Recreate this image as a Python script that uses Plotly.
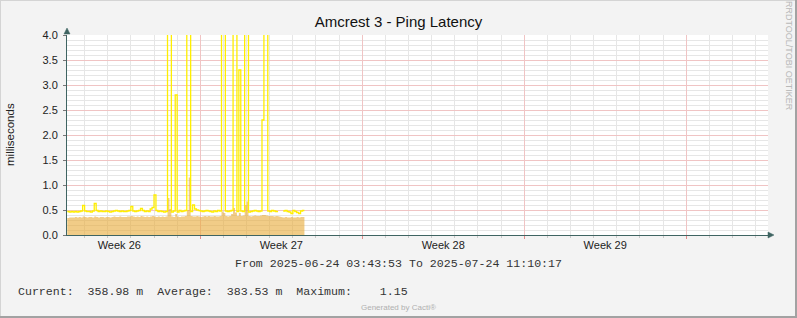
import plotly.graph_objects as go
import pandas as pd

# ---------------- data ----------------
title_text = "Amcrest 3 - Ping Latency"
y_title = "milliseconds"
sample_start = "2025-06-24 06:00"
sample_step = "2h"
range_start = "2025-06-24 05:45"
range_end = "2025-07-24 12:50"

# yellow line (ping, ms) - 2 hour samples
ping_line = [
    0.47, 0.46, 0.47, 0.46, 0.47, 0.46, 0.47, 0.48, 0.59, 0.48,
    0.47, 0.47, 0.46, 0.48, 0.63, 0.49, 0.47, 0.48, 0.47, 0.47,
    0.48, 0.47, 0.46, 0.47, 0.48, 0.49, 0.48, 0.47, 0.48, 0.47,
    0.47, 0.48, 0.49, 0.57, 0.48, 0.47, 0.48, 0.49, 0.53, 0.49,
    0.47, 0.48, 0.47, 0.52, 0.55, 0.80, 0.49, 0.47, 0.48, 0.47,
    0.46, 0.47, 5.00, 5.00, 0.46, 0.48, 2.80, 0.46, 0.49, 0.47,
    0.48, 0.49, 5.00, 5.00, 0.47, 0.60, 0.52, 0.50, 0.49, 0.48,
    0.47, 0.48, 0.49, 0.48, 0.47, 0.46, 0.48, 0.47, 0.49, 0.48,
    5.00, 5.00, 0.48, 0.47, 0.48, 0.49, 5.00, 5.00, 0.47, 3.30,
    0.48, 0.47, 5.00, 5.00, 0.46, 0.47, 0.48, 0.49, 0.48, 0.47,
    0.48, 2.30, 5.00, 5.00, 0.48, 0.47, 0.49, 0.48, 0.47, 0.48,
    None, None, 0.48, 0.49, 0.47, 0.46, 0.43, 0.49, 0.47, 0.45,
    0.43, 0.48, 0.49, 0.49,
]

# tan area (ping, ms)
ping_area = [
    0.34, 0.35, 0.35, 0.35, 0.36, 0.35, 0.36, 0.35, 0.37, 0.36,
    0.35, 0.36, 0.36, 0.35, 0.37, 0.36, 0.35, 0.36, 0.36, 0.35,
    0.36, 0.36, 0.35, 0.36, 0.37, 0.36, 0.36, 0.37, 0.36, 0.36,
    0.36, 0.37, 0.37, 0.38, 0.37, 0.36, 0.37, 0.36, 0.38, 0.37,
    0.36, 0.37, 0.36, 0.37, 0.38, 0.37, 0.36, 0.37, 0.36, 0.37,
    0.36, 0.37, 0.74, 0.52, 0.37, 0.36, 0.42, 0.37, 0.36, 0.37,
    0.37, 0.38, 0.50, 1.15, 0.38, 0.37, 0.37, 0.38, 0.37, 0.36,
    0.37, 0.38, 0.37, 0.38, 0.37, 0.37, 0.38, 0.37, 0.37, 0.38,
    0.47, 0.44, 0.38, 0.37, 0.38, 0.42, 0.54, 0.45, 0.38, 0.44,
    0.38, 0.39, 0.60, 0.67, 0.38, 0.37, 0.38, 0.39, 0.38, 0.38,
    0.39, 0.40, 0.40, 0.39, 0.38, 0.38, 0.38, 0.37, 0.38, 0.38,
    None, None, 0.35, 0.36, 0.35, 0.35, 0.36, 0.35, 0.35, 0.36,
    0.35, 0.36, 0.36, 0.36,
]

week_centers = ["2025-06-26 12:00", "2025-07-03 12:00", "2025-07-10 12:00", "2025-07-17 12:00"]
week_labels = ["Week 26", "Week 27", "Week 28", "Week 29"]
y_ticks = [0.0, 0.5, 1.0, 1.5, 2.0, 2.5, 3.0, 3.5, 4.0]
y_tick_labels = ["0.0", "0.5", "1.0", "1.5", "2.0", "2.5", "3.0", "3.5", "4.0"]

period_text = "From 2025-06-24 03:43:53 To 2025-07-24 11:10:17"
legend_names = ["Current:", "Average:", "Maximum:"]
legend_values = ["358.98 m", "383.53 m", "1.15"]
footer_text = "Generated by Cacti®"
side_text = "RRDTOOL/TOBI OETIKER"

# ---------------- layout constants ----------------
W, H = 797, 318
L, R, T, B = 67, 768, 35, 235   # plot area in pixels

def px_x(px):
    return (px - L) / (R - L)

def px_y(py):
    return (B - py) / (B - T)

AXIS_COL = "#3f6462"
MAJOR_GRID = "rgb(240,196,196)"
MINOR_GRID = "rgb(230,230,230)"
SANS = "Liberation Sans"
MONO = "Liberation Mono"
DAY_MS = 86400000

times = pd.date_range(sample_start, periods=len(ping_line), freq=sample_step)

fig = go.Figure()
fig.add_trace(go.Scatter(
    x=times, y=ping_area, mode="lines", line=dict(width=0, shape="hv"),
    fill="tozeroy", fillcolor="rgba(232,170,55,0.6)",
    hoverinfo="skip", showlegend=False, connectgaps=False,
))
fig.add_trace(go.Scatter(
    x=times, y=ping_line, mode="lines", line=dict(width=1.3, color="#FFEE00", shape="hv"),
    hoverinfo="skip", showlegend=False, connectgaps=False,
))
# carrier for week-label axis
fig.add_trace(go.Scatter(
    x=week_centers, y=[0] * len(week_centers), mode="markers", marker=dict(opacity=0),
    xaxis="x2", yaxis="y", hoverinfo="skip", showlegend=False,
))
# carrier for major-grid / y-label axes
fig.add_trace(go.Scatter(
    x=week_centers, y=[0] * len(week_centers), mode="markers", marker=dict(opacity=0),
    xaxis="x3", yaxis="y3", hoverinfo="skip", showlegend=False,
))

legend_line = ""
spacing = [2, 2, 2, 2, 4]
parts = [legend_names[0], legend_values[0], legend_names[1], legend_values[1], legend_names[2], legend_values[2]]
for k, p in enumerate(parts):
    legend_line += p
    if k < len(spacing):
        legend_line += "\u00a0" * spacing[k]

annotations = [
    dict(text=y_title, x=px_x(10), y=px_y(135), xref="paper", yref="paper", textangle=-90,
         showarrow=False, font=dict(family=SANS, size=11.5, color="#222"), xanchor="center", yanchor="middle"),
    dict(text=period_text.replace(" ", "\u00a0"), x=px_x(398.5), y=px_y(263), xref="paper", yref="paper",
         showarrow=False, font=dict(family=MONO, size=11.6, color="#333"), xanchor="center", yanchor="middle"),
    dict(text=legend_line, x=px_x(16), y=px_y(291), xref="paper", yref="paper",
         showarrow=False, font=dict(family=MONO, size=11.6, color="#333"), xanchor="left", yanchor="middle"),
    dict(text=footer_text, x=px_x(398), y=px_y(307), xref="paper", yref="paper",
         showarrow=False, font=dict(family=SANS, size=8, color="#b0b0b0"), xanchor="center", yanchor="middle"),
    dict(text=side_text, x=px_x(789), y=px_y(56), xref="paper", yref="paper", textangle=90,
         showarrow=False, font=dict(family=SANS, size=9, color="#b8b8b8"), xanchor="center", yanchor="middle"),
]

shapes = [
    dict(type="line", xref="paper", yref="paper", x0=px_x(0), x1=px_x(W), y0=px_y(0.5), y1=px_y(0.5),
         line=dict(color="#d4d4d4", width=1)),
    dict(type="line", xref="paper", yref="paper", x0=px_x(0.5), x1=px_x(0.5), y0=px_y(0), y1=px_y(H),
         line=dict(color="#d4d4d4", width=1)),
    dict(type="line", xref="paper", yref="paper", x0=px_x(W - 1), x1=px_x(W - 1), y0=px_y(0), y1=px_y(H),
         line=dict(color="#a2a2a2", width=2)),
    dict(type="line", xref="paper", yref="paper", x0=px_x(0), x1=px_x(W), y0=px_y(H - 1), y1=px_y(H - 1),
         line=dict(color="#a2a2a2", width=2)),
    dict(type="line", xref="paper", yref="paper", x0=px_x(R), x1=px_x(770), y0=0, y1=0,
         line=dict(color=AXIS_COL, width=1)),
    dict(type="path", xref="paper", yref="paper",
         path=f"M {px_x(768)},{px_y(232)} L {px_x(774)},{px_y(235)} L {px_x(768)},{px_y(238)} Z",
         fillcolor=AXIS_COL, line=dict(color=AXIS_COL, width=0.5)),
    dict(type="path", xref="paper", yref="paper",
         path=f"M {px_x(64)},{px_y(34)} L {px_x(67)},{px_y(28)} L {px_x(70)},{px_y(34)} Z",
         fillcolor=AXIS_COL, line=dict(color=AXIS_COL, width=0.5)),
]

fig.update_layout(
    width=W, height=H,
    margin=dict(l=L, r=W - R, t=T, b=H - B, pad=0),
    paper_bgcolor="#f3f3f3", plot_bgcolor="#ffffff",
    title=dict(text=title_text, x=0.5, xref="container", xanchor="center",
               y=1 - 22 / H, yref="container", yanchor="middle",
               font=dict(family=SANS, size=15, color="#111")),
    showlegend=False,
    # main axes: daily / 0.1 light grey grid
    xaxis=dict(
        type="date", range=[range_start, range_end], showticklabels=False,
        tick0="2025-06-24", dtick=DAY_MS,
        showgrid=True, gridcolor=MINOR_GRID,
        ticks="outside", ticklen=2, tickcolor="rgb(200,200,200)",
        showline=True, linecolor=AXIS_COL, linewidth=1, zeroline=False, fixedrange=True,
    ),
    yaxis=dict(
        range=[0, 4], tick0=0, dtick=0.1, showticklabels=False, ticks="",
        showgrid=True, gridcolor=MINOR_GRID,
        showline=True, linecolor=AXIS_COL, linewidth=1, zeroline=False, fixedrange=True,
    ),
    # week labels
    xaxis2=dict(
        type="date", range=[range_start, range_end], overlaying="x", side="bottom", anchor="y",
        tickmode="array", tickvals=week_centers, ticktext=week_labels,
        showgrid=False, ticks="", showline=False, zeroline=False, fixedrange=True,
        tickfont=dict(family=SANS, size=11, color="#222"), ticklabelstandoff=2,
    ),
    # major pinkish grid on Mondays
    xaxis3=dict(
        type="date", range=[range_start, range_end], overlaying="x", side="bottom", anchor="y3",
        tick0="2025-06-30", dtick=7 * DAY_MS, showticklabels=False,
        showgrid=True, gridcolor=MAJOR_GRID,
        ticks="outside", ticklen=3, tickcolor="rgb(226,140,140)",
        showline=False, zeroline=False, fixedrange=True,
    ),
    # major pinkish grid at 0.5 + y labels
    yaxis3=dict(
        range=[0, 4], overlaying="y", side="left", anchor="x3",
        tickmode="array", tickvals=y_ticks, ticktext=y_tick_labels,
        showgrid=True, gridcolor=MAJOR_GRID,
        ticks="outside", ticklen=3, tickcolor="#777", ticklabelstandoff=3,
        tickfont=dict(family=SANS, size=11, color="#222"),
        showline=False, zeroline=False, fixedrange=True,
    ),
    annotations=annotations,
    shapes=shapes,
)

fig.write_html("out.html")
